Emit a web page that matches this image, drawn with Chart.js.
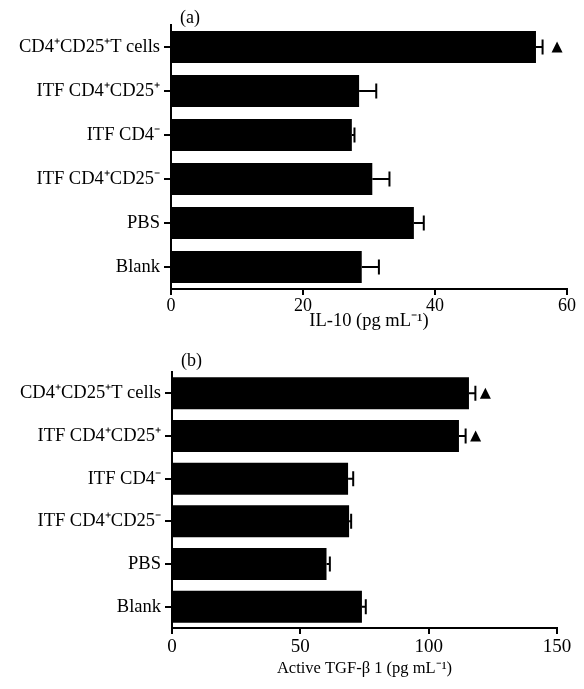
<!DOCTYPE html>
<html>
<head>
<meta charset="utf-8">
<script src="https://cdn.jsdelivr.net/npm/chart.js@4"></script>
<style>
  html, body { margin: 0; padding: 0; background: #fff; }
  #wrap { position: relative; width: 584px; height: 689px; }
  canvas { position: absolute; left: 0; }
</style>
</head>
<body>
<div id="wrap">
  <canvas id="chartA" width="584" height="340" style="top:0"></canvas>
  <canvas id="chartB" width="584" height="349" style="top:340px"></canvas>
</div>
<script>
// Treatment groups (top to bottom)
const groups = ['CD4⁺CD25⁺T cells', 'ITF CD4⁺CD25⁺', 'ITF CD4⁻', 'ITF CD4⁺CD25⁻', 'PBS', 'Blank'];

// (a) IL-10, pg/mL
const il10Mean = [55.3, 28.5, 27.4, 30.5, 36.8, 28.9];
const il10Err = [1.0, 2.6, 0.4, 2.6, 1.5, 2.6];
const il10Marked = [true, false, false, false, false, false];
const il10Ticks = [0, 20, 40, 60];

// (b) Active TGF-β1, pg/mL
const tgfMean = [115.7, 111.8, 68.6, 69.0, 60.2, 74.0];
const tgfErr = [2.5, 2.6, 2.0, 0.8, 1.3, 1.5];
const tgfMarked = [true, true, false, false, false, false];
const tgfTicks = [0, 50, 100, 150];

const SERIF = '"Liberation Serif", "Times New Roman", Times, serif';

// Draws the SEM whiskers and the significance triangles after the bars.
function errorBars(means, errors, marked, gap) {
  return {
    id: 'errorBars',
    afterDatasetsDraw(chart) {
      const ctx = chart.ctx;
      const xs = chart.scales.x;
      const meta = chart.getDatasetMeta(0);
      ctx.save();
      ctx.strokeStyle = '#000';
      ctx.fillStyle = '#000';
      ctx.lineWidth = 2;
      meta.data.forEach((bar, i) => {
        const x0 = xs.getPixelForValue(means[i]);
        const x1 = xs.getPixelForValue(means[i] + errors[i]);
        const y = bar.y;
        const cap = 15;
        ctx.beginPath();
        ctx.moveTo(x0, y);
        ctx.lineTo(x1, y);
        ctx.moveTo(x1, y - cap / 2);
        ctx.lineTo(x1, y + cap / 2);
        ctx.stroke();
        if (marked[i]) {
          const l = x1 + gap, w = 11, h = 11;
          ctx.beginPath();
          ctx.moveTo(l, y + h / 2);
          ctx.lineTo(l + w, y + h / 2);
          ctx.lineTo(l + w / 2, y - h / 2);
          ctx.closePath();
          ctx.fill();
        }
      });
      ctx.restore();
    }
  };
}

// Panel letter above the plot area
function panelLabel(text, dx, y) {
  return {
    id: 'panelLabel',
    afterDraw(chart) {
      const ctx = chart.ctx;
      ctx.save();
      ctx.fillStyle = '#000';
      ctx.font = '18px ' + SERIF;
      ctx.textAlign = 'left';
      ctx.textBaseline = 'middle';
      ctx.fillText(text, chart.chartArea.left + dx, y);
      ctx.restore();
    }
  };
}

function makeChart(id, means, errors, marked, ticks, cfg) {
  return new Chart(document.getElementById(id), {
    type: 'bar',
    data: {
      labels: groups,
      datasets: [{
        data: means,
        backgroundColor: '#000',
        borderWidth: 0,
        barPercentage: cfg.barPct,
        categoryPercentage: 1
      }]
    },
    options: {
      indexAxis: 'y',
      responsive: false,
      animation: false,
      events: [],
      layout: { padding: cfg.padding },
      plugins: { legend: { display: false }, tooltip: { enabled: false } },
      scales: {
        x: {
          type: 'linear',
          position: 'bottom',
          min: ticks[0],
          max: ticks[ticks.length - 1],
          afterBuildTicks: s => { s.ticks = ticks.map(v => ({ value: v })); },
          afterFit: s => { s.height = cfg.xHeight; },
          border: { display: true, color: '#000', width: 2 },
          grid: { display: true, drawOnChartArea: false, drawTicks: true, tickLength: 6, color: '#000', lineWidth: 2 },
          ticks: { color: '#000', font: { family: SERIF, size: cfg.xTickSize }, padding: cfg.xTickPad, maxRotation: 0 },
          title: { display: true, text: cfg.xTitle, color: '#000', font: { family: SERIF, size: cfg.xTitleSize }, padding: 0 }
        },
        y: {
          type: 'category',
          afterFit: s => { s.width = cfg.yWidth; },
          border: { display: true, color: '#000', width: 2 },
          grid: { display: true, offset: false, drawOnChartArea: false, drawTicks: true, tickLength: 7, color: '#000', lineWidth: 2 },
          ticks: { color: '#000', font: { family: SERIF, size: 18.5 }, padding: 4 }
        }
      }
    },
    plugins: [errorBars(means, errors, marked, cfg.markGap), panelLabel(cfg.panel, 9, cfg.panelY)]
  });
}

makeChart('chartA', il10Mean, il10Err, il10Marked, il10Ticks, {
  padding: { top: 25, right: 17, bottom: 8, left: 0 },
  yWidth: 171, xHeight: 43, xTickSize: 18, xTickPad: 0,
  xTitle: 'IL-10 (pg mL⁻¹)', xTitleSize: 18.5,
  barPct: 0.73, markGap: 9, panel: '(a)', panelY: 18
});

makeChart('chartB', tgfMean, tgfErr, tgfMarked, tgfTicks, {
  padding: { top: 32, right: 27, bottom: 10, left: 0 },
  yWidth: 172, xHeight: 51, xTickSize: 19, xTickPad: 2,
  xTitle: 'Active TGF-β 1 (pg mL⁻¹)', xTitleSize: 16.5,
  barPct: 0.75, markGap: 4.5, panel: '(b)', panelY: 21
});
</script>
</body>
</html>
